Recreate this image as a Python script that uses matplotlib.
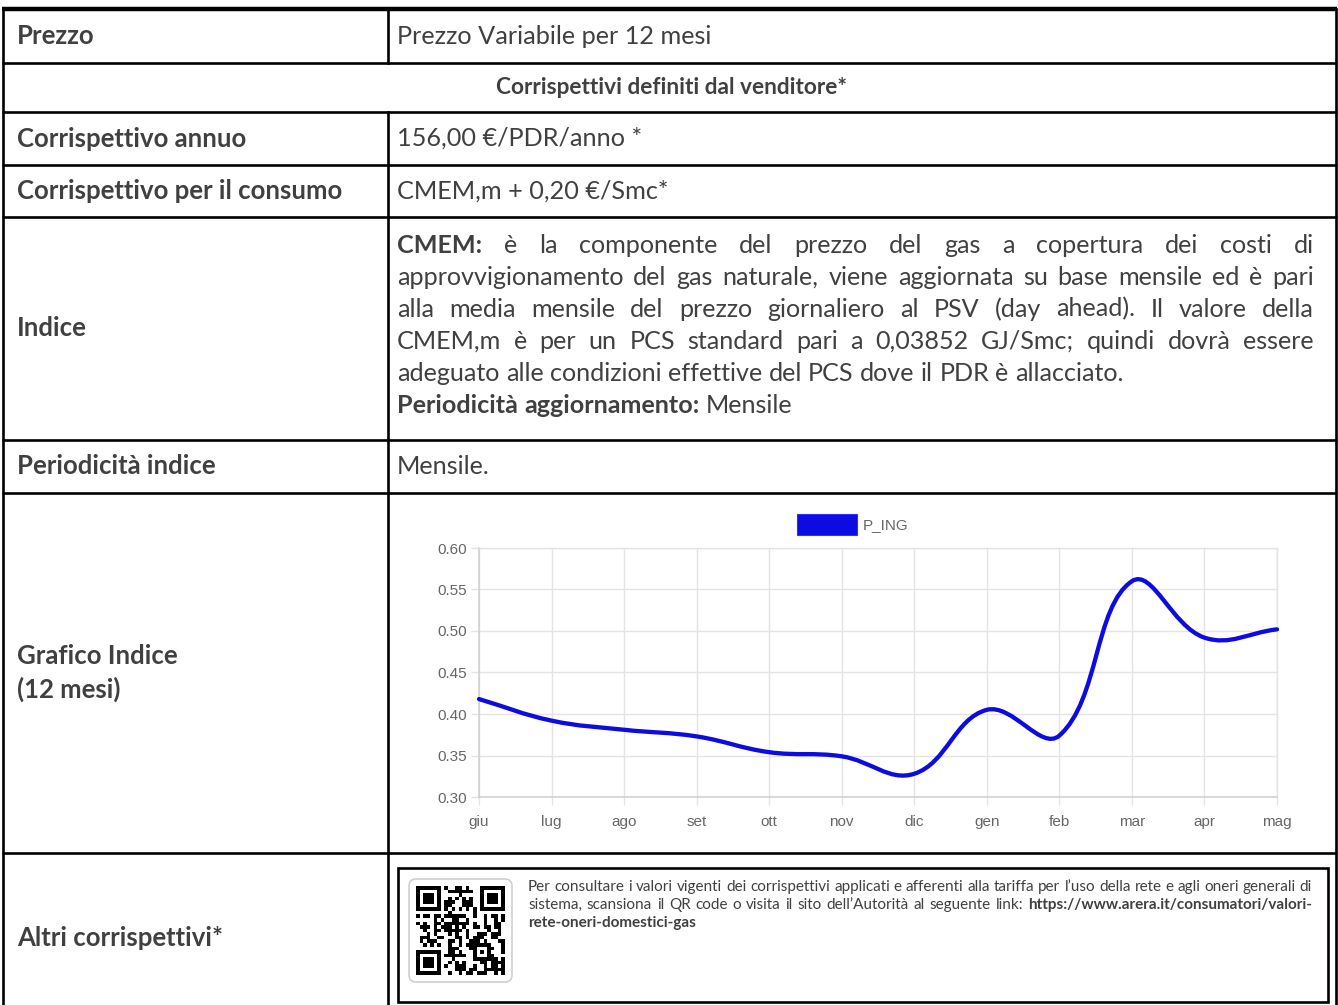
import numpy as np
import matplotlib
matplotlib.use("Agg")
import matplotlib.pyplot as plt
from matplotlib.path import Path
from matplotlib.patches import PathPatch, Rectangle, FancyBboxPatch

# ---------------- data ----------------
months = ["giu", "lug", "ago", "set", "ott", "nov", "dic", "gen", "feb", "mar", "apr", "mag"]
p_ing = [0.418, 0.392, 0.381, 0.373, 0.354, 0.349, 0.328, 0.405, 0.374, 0.560, 0.492, 0.502]
y_ticks = [0.30, 0.35, 0.40, 0.45, 0.50, 0.55, 0.60]
series_name = "P_ING"

row_labels = ["Prezzo", "Corrispettivo annuo", "Corrispettivo per il consumo", "Indice",
              "Periodicità indice", "Grafico Indice\n(12 mesi)", "Altri corrispettivi*"]
row_values = ["Prezzo Variabile per 12 mesi", "156,00 €/PDR/anno *", "CMEM,m + 0,20 €/Smc*"]
header_text = "Corrispettivi definiti dal venditore*"
periodicita_text = "Mensile."
indice_lines = [
    ([("CMEM:", "bold")] + [(w, "normal") for w in "è la componente del prezzo del gas a copertura dei costi di".split()], True),
    ([(w, "normal") for w in "approvvigionamento del gas naturale, viene aggiornata su base mensile ed è pari".split()], True),
    ([(w, "normal") for w in "alla media mensile del prezzo giornaliero al PSV (day ahead). Il valore della".split()], True),
    ([(w, "normal") for w in "CMEM,m è per un PCS standard pari a 0,03852 GJ/Smc; quindi dovrà essere".split()], True),
    ([(w, "normal") for w in "adeguato alle condizioni effettive del PCS dove il PDR è allacciato.".split()], False),
    ([("Periodicità", "bold"), ("aggiornamento:", "bold"), ("Mensile", "normal")], False),
]
qr_lines = [
    ([(w, "normal") for w in "Per consultare i valori vigenti dei corrispettivi applicati e afferenti alla tariffa per l’uso della rete e agli oneri generali di".split()], True),
    ([(w, "normal") for w in "sistema, scansiona il QR code o visita il sito dell’Autorità al seguente link:".split()]
     + [("https://www.arera.it/consumatori/valori-", "bold")], True),
    ([("rete-oneri-domestici-gas", "bold")], False),
]
qr_url = "https://www.arera.it/consumatori/valori-rete-oneri-domestici-gas"

# ---------------- figure ----------------
W, H = 1338, 1005
fig = plt.figure(figsize=(W / 100, H / 100), dpi=100)
bg = fig.add_axes([0, 0, 1, 1])
bg.set_xlim(0, W)
bg.set_ylim(H, 0)
bg.axis("off")
renderer = fig.canvas.get_renderer()

DOC = "Lato"
TXT = "#404040"

def text_w(s, size, weight, family=DOC):
    t = bg.text(0, 0, s, fontsize=size, fontweight=weight, family=family)
    w = t.get_window_extent(renderer).width
    t.remove()
    return w

def fit(s, target, weight, family=DOC):
    return 20 * target / text_w(s, 20, weight, family)

def place_line(words, x0, x1, y, size, justify, color=TXT):
    widths = [text_w(w, size, wt) for w, wt in words]
    space = text_w("a a", size, "normal") - text_w("aa", size, "normal")
    if justify and len(words) > 1:
        gap = (x1 - x0 - sum(widths)) / (len(words) - 1)
    else:
        gap = space
    x = x0
    for (w, wt), wd in zip(words, widths):
        bg.text(x, y, w, fontsize=size, fontweight=wt, family=DOC, color=color,
                va="center", ha="left")
        x += wd + gap

# ---------------- table lines ----------------
L, R, C = 3, 1336, 388
rows_y = [63, 112, 165, 217, 440, 493, 853]
lw = 1.9
bg.plot([L - 1, R + 1], [9, 9], color="black", lw=3.2, solid_capstyle="butt")
for y in rows_y:
    bg.plot([L - 1, R + 1], [y, y], color="black", lw=lw, solid_capstyle="butt")
bg.plot([L, L], [9, H], color="black", lw=lw)
bg.plot([R, R], [9, H], color="black", lw=lw)
for y0, y1 in [(9, 63), (112, H)]:
    bg.plot([C, C], [y0, y1], color="black", lw=lw)

# ---------------- table text ----------------
s_lab = fit("Corrispettivo per il consumo", 325, "bold")
s_val = fit("Prezzo Variabile per 12 mesi", 316, "normal")
s_hdr = fit(header_text, 351, "bold")
s_ind = fit("adeguato alle condizioni effettive del PCS dove il PDR è allacciato.", 728, "normal")

label_y = [36, 138.5, 191, 328, 466, 673, 938]
for lab, y in zip(row_labels, label_y):
    bg.text(17, y, lab, fontsize=s_lab, fontweight="bold", family=DOC, color=TXT,
            va="center", ha="left", linespacing=1.4)
for val, y in zip(row_values, [36, 138.5, 191]):
    bg.text(397, y, val, fontsize=s_val, family=DOC, color=TXT, va="center", ha="left")
bg.text(672, 87, header_text, fontsize=s_hdr, fontweight="bold", family=DOC, color=TXT,
        va="center", ha="center")
bg.text(397, 466, periodicita_text, fontsize=s_val, family=DOC, color=TXT, va="center", ha="left")

ind_y = [245, 277, 309, 341, 373, 405]
for (words, just), y in zip(indice_lines, ind_y):
    place_line(words, 397, 1314, y, s_ind, just)

# ---------------- QR section ----------------
bg.add_patch(Rectangle((398, 868), 1328 - 398, 1002 - 868, fill=False, ec="black", lw=1.9))
bg.add_patch(FancyBboxPatch((409, 879), 103, 103, boxstyle="round,pad=0,rounding_size=7",
                            fc="white", ec="#d0d0d0", lw=1.2))
N = 25
qr = np.zeros((N, N), dtype=int)
codes = [ord(c) for c in qr_url]
for r in range(N):
    for c in range(N):
        k = r * N + c
        qr[r, c] = ((codes[k % len(codes)] >> (k % 7)) ^ (r * 3 + c * 5) % 2) & 1
def finder(r0, c0):
    qr[max(r0 - 1, 0):r0 + 8, max(c0 - 1, 0):c0 + 8] = 0
    qr[r0:r0 + 7, c0:c0 + 7] = 1
    qr[r0 + 1:r0 + 6, c0 + 1:c0 + 6] = 0
    qr[r0 + 2:r0 + 5, c0 + 2:c0 + 5] = 1
finder(0, 0); finder(0, 18); finder(18, 0)
qr[16:21, 16:21] = 1; qr[17:20, 17:20] = 0; qr[18, 18] = 1
for i in range(8, 17):
    qr[6, i] = (i + 1) % 2
    qr[i, 6] = (i + 1) % 2
bg.imshow(1 - qr, cmap="gray", vmin=0, vmax=1, extent=(416, 505, 975, 886),
          interpolation="nearest", zorder=3)
bg.set_xlim(0, W); bg.set_ylim(H, 0)

s_qr = fit(" ".join(w for w, _ in qr_lines[0][0]), 784, "normal")
for (words, just), y in zip(qr_lines, [887, 905, 923]):
    place_line(words, 528, 1312, y, s_qr, just)

# ---------------- chart ----------------
px_l, px_r, px_t, px_b = 479, 1277, 548, 797
ax = fig.add_axes([px_l / W, 1 - px_b / H, (px_r - px_l) / W, (px_b - px_t) / H])
ax.set_xlim(0, len(months) - 1)
ax.set_ylim(y_ticks[0], y_ticks[-1])
ax.set_xticks(range(len(months)))
ax.set_xticklabels(months)
ax.set_yticks(y_ticks)
ax.set_yticklabels([f"{v:.2f}" for v in y_ticks])
grid_c = "#e4e4e4"
ax.grid(True, color=grid_c, lw=1)
ax.set_axisbelow(True)
for sp in ["top", "right"]:
    ax.spines[sp].set_color(grid_c)
    ax.spines[sp].set_linewidth(1)
for sp in ["left", "bottom"]:
    ax.spines[sp].set_color("#cfcfcf")
    ax.spines[sp].set_linewidth(1.1)
ax.tick_params(axis="both", length=6, width=1, color=grid_c, labelcolor="#666666",
               labelsize=11)
ax.tick_params(axis="y", pad=3)
ax.tick_params(axis="x", pad=7)
for lab in ax.get_xticklabels() + ax.get_yticklabels():
    lab.set_family("Liberation Sans")

# Chart.js-style cubic spline (tension 0.4) drawn through the data points
tension = 0.4
xs = np.arange(len(p_ing), dtype=float)
pts = ax.transData.transform(np.column_stack([xs, p_ing]))
n = len(pts)
cp_prev = np.zeros_like(pts); cp_next = np.zeros_like(pts)
for i in range(n):
    prv = pts[i - 1] if i > 0 else pts[i]
    cur = pts[i]
    nxt = pts[i + 1] if i < n - 1 else pts[i]
    d01 = np.hypot(*(cur - prv)); d12 = np.hypot(*(nxt - cur))
    tot = d01 + d12
    s01 = d01 / tot if tot else 0; s12 = d12 / tot if tot else 0
    cp_prev[i] = cur - tension * s01 * (nxt - prv)
    cp_next[i] = cur + tension * s12 * (nxt - prv)
verts = [pts[0]]; codes_p = [Path.MOVETO]
for i in range(n - 1):
    verts += [cp_next[i], cp_prev[i + 1], pts[i + 1]]
    codes_p += [Path.CURVE4] * 3
verts = ax.transData.inverted().transform(np.array(verts))
line_c = "#0c0ce0"
ax.add_patch(PathPatch(Path(verts, codes_p), fill=False, ec=line_c, lw=3.1,
                       capstyle="round", joinstyle="round", clip_on=False, zorder=3))

# legend (Chart.js style box)
bg.add_patch(Rectangle((797, 514), 60, 21, fc=line_c, ec="#3030ff", lw=0.8))
bg.text(863, 525, series_name, fontsize=11, family="Liberation Sans", color="#666666",
        va="center", ha="left")

fig.savefig("out.png", dpi=100)
